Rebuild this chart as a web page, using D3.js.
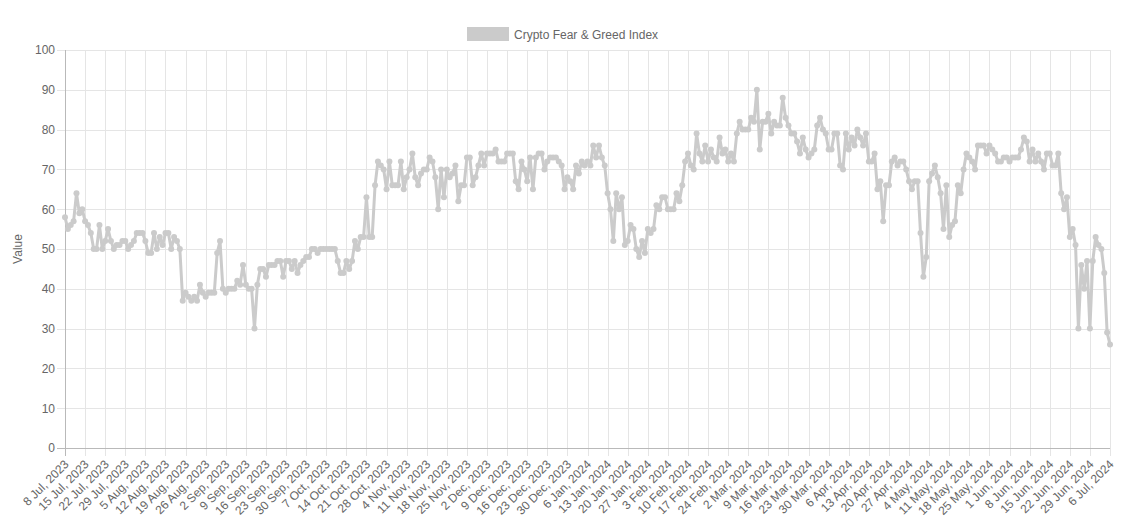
<!DOCTYPE html>
<html>
<head>
<meta charset="utf-8">
<script src="https://cdn.jsdelivr.net/npm/d3@7"></script>
<style>
  body { margin: 0; background: #fff; }
  svg { font-family: "Liberation Sans", Arial, Helvetica, sans-serif; }
</style>
</head>
<body>
<svg id="chart"></svg>
<script>
var screen = {width:1126, height:526};
var margins = {top:50, right:16, bottom:78, left:65};

var seriesName = "Crypto Fear & Greed Index";
var startDay = "2023-07-08";

// one value per day, 8 Jul 2023 .. 6 Jul 2024 (a week per row)
var values = [
    58,55,56,57,64,59,60,
    57,56,54,50,50,56,50,
    52,55,52,50,51,51,52,
    52,50,51,52,54,54,54,
    52,49,49,54,50,53,51,
    54,54,50,53,52,50,37,
    39,38,37,38,37,41,39,
    38,39,39,39,49,52,40,
    39,40,40,40,42,41,46,
    41,40,40,30,41,45,45,
    43,46,46,46,47,47,43,
    47,47,45,47,44,46,47,
    48,48,50,50,49,50,50,
    50,50,50,50,47,44,44,
    47,45,47,52,50,53,53,
    63,53,53,66,72,71,70,
    65,72,66,66,66,72,65,
    68,70,74,68,66,69,70,
    70,73,72,68,60,70,63,
    70,68,69,71,62,66,66,
    73,73,66,68,71,74,71,
    74,74,74,75,72,72,72,
    74,74,74,67,65,72,70,
    67,73,65,73,74,74,70,
    72,73,73,73,72,71,65,
    68,67,65,71,69,72,71,
    72,71,76,73,76,73,71,
    64,60,52,64,60,63,51,
    52,56,55,50,48,52,49,
    55,54,55,61,60,63,63,
    60,60,60,64,62,66,72,
    74,71,70,79,74,72,76,
    72,75,73,72,78,74,75,
    72,74,72,79,82,80,80,
    80,83,82,90,75,82,82,
    84,79,82,81,81,88,83,
    81,79,79,77,74,78,75,
    73,74,75,81,83,80,79,
    75,75,79,79,71,70,79,
    75,78,76,80,78,76,79,
    72,72,74,65,67,57,66,
    66,72,73,71,72,72,70,
    67,65,67,67,54,43,48,
    67,69,71,68,64,55,66,
    53,56,57,66,64,70,74,
    73,72,70,76,76,76,74,
    76,75,74,72,72,73,73,
    72,73,73,73,75,78,77,
    72,75,72,74,72,70,74,
    74,71,71,74,64,60,63,
    53,55,51,30,46,40,47,
    30,47,53,51,50,44,29,
    26
];

var yTicks = [0,10,20,30,40,50,60,70,80,90,100];

var tickLabels = [
    "8 Jul, 2023","15 Jul, 2023","22 Jul, 2023","29 Jul, 2023","5 Aug, 2023","12 Aug, 2023",
    "19 Aug, 2023","26 Aug, 2023","2 Sep, 2023","9 Sep, 2023","16 Sep, 2023","23 Sep, 2023",
    "30 Sep, 2023","7 Oct, 2023","14 Oct, 2023","21 Oct, 2023","28 Oct, 2023","4 Nov, 2023",
    "11 Nov, 2023","18 Nov, 2023","25 Nov, 2023","2 Dec, 2023","9 Dec, 2023","16 Dec, 2023",
    "23 Dec, 2023","30 Dec, 2023","6 Jan, 2024","13 Jan, 2024","20 Jan, 2024","27 Jan, 2024",
    "3 Feb, 2024","10 Feb, 2024","17 Feb, 2024","24 Feb, 2024","2 Mar, 2024","9 Mar, 2024",
    "16 Mar, 2024","23 Mar, 2024","30 Mar, 2024","6 Apr, 2024","13 Apr, 2024","20 Apr, 2024",
    "27 Apr, 2024","4 May, 2024","11 May, 2024","18 May, 2024","25 May, 2024","1 Jun, 2024",
    "8 Jun, 2024","15 Jun, 2024","22 Jun, 2024","29 Jun, 2024","6 Jul, 2024"
];

var lineColor = "#cbcbcb";
var gridColor = "#e5e5e5";
var zeroColor = "#b9b9b9";
var textColor = "#666";

var setup = function()
    {
        var width = screen.width - margins.left - margins.right;
        var height = screen.height - margins.top - margins.bottom;

        var first = d3.timeParse("%Y-%m-%d")(startDay);
        var days = values.map(function(v, i) { return d3.timeDay.offset(first, i); });
        var tickDays = tickLabels.map(function(t, i) { return d3.timeDay.offset(first, 7*i); });

        var svg = d3.select("#chart")
            .attr("width", screen.width)
            .attr("height", screen.height);

        var xscale = d3.scaleTime()
                        .domain([days[0], days[days.length-1]])
                        .range([0, width]);

        var yscale = d3.scaleLinear()
                        .domain([0,100])
                        .range([height,0]);

        var graph = svg.append("g")
            .attr("id", "graph")
            .attr("transform", "translate("+margins.left+","+margins.top+")");

        // horizontal grid + y ticks
        var yAxis = d3.axisLeft(yscale)
            .tickValues(yTicks)
            .tickSize(-(width+8))
            .tickPadding(10);
        graph.append("g")
            .attr("id", "yAxis")
            .attr("transform", "translate(-8,0)")
            .call(yAxis)
            .call(function(g)
                {
                    g.select(".domain").remove();
                    g.selectAll("line")
                        .attr("stroke", function(d) { return d === 0 ? zeroColor : gridColor; })
                        .attr("shape-rendering", "crispEdges");
                    g.selectAll("text")
                        .attr("fill", textColor)
                        .attr("x", -2)
                        .style("font-size", "12px");
                });

        // vertical grid + rotated date labels
        var xAxis = d3.axisBottom(xscale)
            .tickValues(tickDays)
            .tickFormat(function(d, i) { return tickLabels[i]; })
            .tickSize(-(height+8));
        graph.append("g")
            .attr("id", "xAxis")
            .attr("transform", "translate(0,"+(height+8)+")")
            .call(xAxis)
            .call(function(g)
                {
                    g.select(".domain").remove();
                    g.selectAll("line")
                        .attr("stroke", function(d, i) { return i === 0 ? zeroColor : gridColor; })
                        .attr("shape-rendering", "crispEdges");
                    g.selectAll("text")
                        .attr("fill", textColor)
                        .style("font-size", "12px")
                        .attr("text-anchor", "end")
                        .attr("y", 0)
                        .attr("dy", 0)
                        .attr("transform", "translate(4,9) rotate(-45)");
                });

        // redraw the two zero lines on top of the grid
        graph.append("line")
            .attr("x1", 0).attr("x2", width)
            .attr("y1", yscale(0)).attr("y2", yscale(0))
            .attr("stroke", zeroColor)
            .attr("shape-rendering", "crispEdges");
        graph.append("line")
            .attr("x1", 0).attr("x2", 0)
            .attr("y1", 0).attr("y2", height+8)
            .attr("stroke", zeroColor)
            .attr("shape-rendering", "crispEdges");

        svg.append("text")
            .attr("transform", "translate(22,"+(margins.top+height/2)+") rotate(-90)")
            .attr("text-anchor", "middle")
            .attr("fill", textColor)
            .style("font-size", "12px")
            .text("Value");

        drawLine(graph, days, xscale, yscale);
        drawLegend(svg);
    };

var drawLine = function(graph, days, xscale, yscale)
    {
        var line = d3.line()
            .x(function(d, i) { return xscale(days[i]); })
            .y(function(d) { return yscale(d); });

        graph.append("path")
            .datum(values)
            .attr("fill", "none")
            .attr("stroke", lineColor)
            .attr("stroke-width", 3)
            .attr("stroke-linejoin", "round")
            .attr("d", line);

        graph.selectAll("circle.pt")
            .data(values)
            .enter()
            .append("circle")
            .attr("class", "pt")
            .attr("cx", function(d, i) { return xscale(days[i]); })
            .attr("cy", function(d) { return yscale(d); })
            .attr("r", 3)
            .attr("fill", lineColor);
    };

var drawLegend = function(svg)
    {
        var legend = svg.append("g").attr("id", "legend");
        legend.append("rect")
            .attr("x", 467.5).attr("y", 27.5)
            .attr("width", 41).attr("height", 13)
            .attr("fill", lineColor)
            .attr("stroke", lineColor)
            .attr("stroke-width", 1);
        legend.append("text")
            .attr("x", 514)
            .attr("y", 38.5)
            .attr("fill", textColor)
            .style("font-size", "12px")
            .text(seriesName);
    };

setup();
</script>
</body>
</html>
